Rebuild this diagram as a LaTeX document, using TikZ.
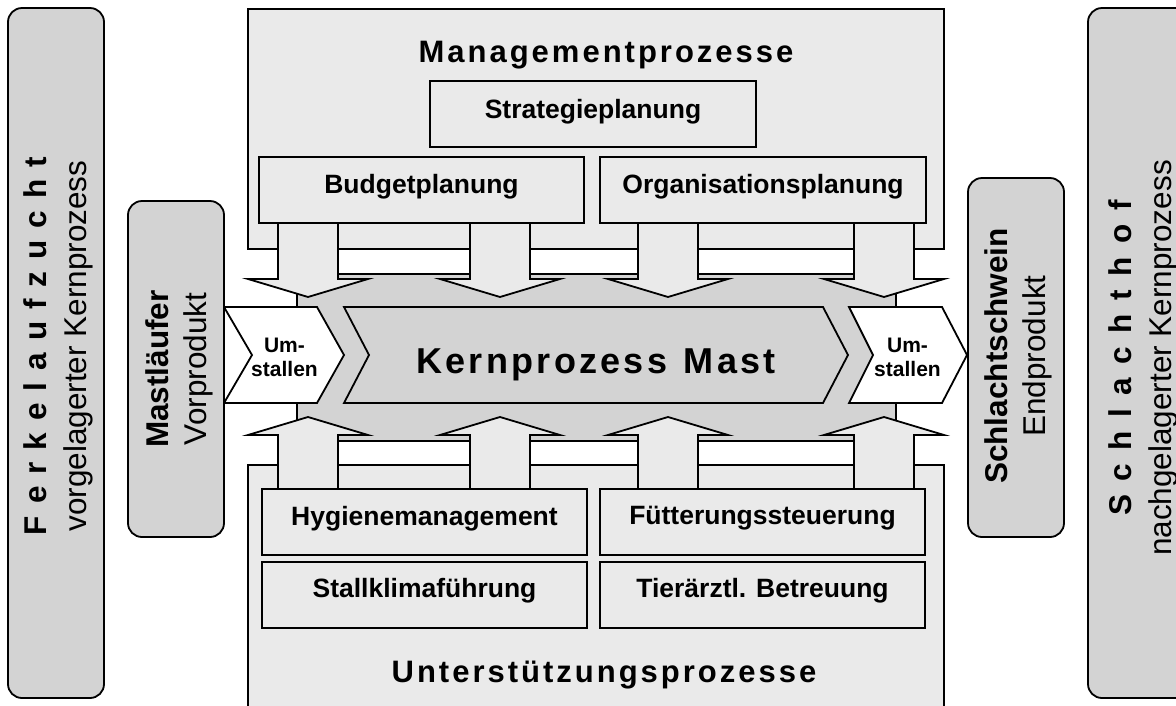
\documentclass[tikz,border=0pt]{standalone}
\usepackage{fontspec}
\setmainfont{Liberation Sans}
\definecolor{boxlight}{HTML}{EAEAEA}
\definecolor{boxmid}{HTML}{D3D3D3}
% letter-spaced text: \lspaced{gap}{word}
\makeatletter
\newcommand\lspaced[2]{\def\lsp@gap{#1}\lsp@next#2\@nil}
\def\lsp@next#1#2\@nil{#1\ifx\relax#2\relax\else\kern\lsp@gap\lsp@next#2\@nil\fi}
\makeatother
\begin{document}
\begin{tikzpicture}[x=1pt,y=-1pt,line width=1.8pt,line join=miter,
  sidebox/.style={draw=black,fill=boxmid,rounded corners=14pt},
  frame/.style={draw=black,fill=boxlight},
  core/.style={draw=black,fill=boxmid},
  flowarrow/.style={draw=black,fill=boxlight},
  chevwhite/.style={draw=black,fill=white},
  chevgray/.style={draw=black,fill=boxmid},
  label/.style={anchor=base,inner sep=0pt,font=\fontsize{26.5}{30}\selectfont\bfseries},
  title/.style={anchor=base,inner sep=0pt,font=\fontsize{31}{36}\selectfont\bfseries},
  small/.style={inner sep=0pt,align=center,font=\fontsize{21}{24}\selectfont\bfseries},
  vtext/.style={inner sep=0pt,align=center,rotate=90,font=\fontsize{31.5}{38}\selectfont},
  vtextwide/.style={inner sep=0pt,align=center,rotate=90,font=\fontsize{31.5}{40}\selectfont}]
\useasboundingbox (0,0) rectangle (1176,705);
\clip (0,0) rectangle (1176,705);

% upstream and downstream core processes
\draw[sidebox] (8,8) rectangle (104,698);
\draw[sidebox] (1088,8) rectangle (1200,698);

% management and support frames
\draw[frame] (248,9) rectangle (944,249);
\draw[frame] (248,465) rectangle (944,720);

% core process area
\draw[core] (297,274) rectangle (896,441);

% arrows from management down and from support up
\foreach \c in {308,500,668,884}{
  \draw[flowarrow] ({\c-30},223) -- ({\c+30},223) -- ({\c+30},279) -- ({\c+60},279)
    -- (\c,297) -- ({\c-60},279) -- ({\c-30},279) -- cycle;
  \draw[flowarrow] ({\c-30},489) -- ({\c-30},435) -- ({\c-60},435) -- (\c,417)
    -- ({\c+60},435) -- ({\c+30},435) -- ({\c+30},489) -- cycle;
}

% management sub-processes
\draw[frame] (430,81) rectangle (756,147);
\draw[frame] (259,157) rectangle (584,223);
\draw[frame] (600,157) rectangle (926,223);

% support sub-processes
\draw[frame] (262,489) rectangle (587,555);
\draw[frame] (262,562) rectangle (587,628);
\draw[frame] (600,489) rectangle (925,555);
\draw[frame] (600,562) rectangle (925,628);

% process chain
\draw[chevgray] (344,307) -- (823,307) -- (848,355) -- (823,403) -- (344,403) -- (369,355) -- cycle;
\draw[chevwhite] (224,307) -- (317,307) -- (344,355) -- (317,403) -- (224,403) -- (252,355) -- cycle;
\draw[chevwhite] (849,307) -- (942,307) -- (967,355) -- (942,403) -- (849,403) -- (873,355) -- cycle;

% input and output products
\draw[sidebox] (128,201) rectangle (224,537);
\draw[sidebox] (968,178) rectangle (1064,537);

% texts
\node[title] (mgmt) at (606,62) {\lspaced{3pt}{Managementprozesse}};
\node[title] (supp) at (604,682) {\lspaced{3pt}{Unterstützungsprozesse}};
\node[anchor=base,inner sep=0pt,font=\fontsize{36}{40}\selectfont\bfseries] (kern) at (596,373)
  {\lspaced{3.3pt}{Kernprozess}\hspace{16.6pt}\lspaced{3.3pt}{Mast}};

\node[label] (strat) at (593,118) {Strategieplanung};
\node[label] (budget) at (421.5,193) {Budgetplanung};
\node[label] (orga) at (763,193) {Organisationsplanung};
\node[label] (hyg) at (424.5,525) {Hygienemanagement};
\node[label] (klima) at (424.5,597) {Stallklimaführung};
\node[label] (fuetter) at (762.5,524) {Fütterungssteuerung};
\node[label] (tierarzt) at (762.5,597) {Tierärztl. Betreuung};

\node[small] (umst1) at (284.5,357) {Um-\\stallen};
\node[small] (umst2) at (907.5,357) {Um-\\stallen};

\node[vtext] (mastl) at (179,369) {\textbf{Mastläufer}\\Vorprodukt};
\node[vtext] (schwein) at (1018,356) {\textbf{Schlachtschwein}\\Endprodukt};
\node[vtextwide] (ferkel) at (58,346)
  {\textbf{\lspaced{12pt}{Ferkelaufzucht}}\\vorgelagerter Kernprozess};
\node[vtextwide] (hof) at (1143,358)
  {\textbf{\lspaced{13.5pt}{Schlachthof}}\\nachgelagerter Kernprozess};
\end{tikzpicture}
\end{document}
